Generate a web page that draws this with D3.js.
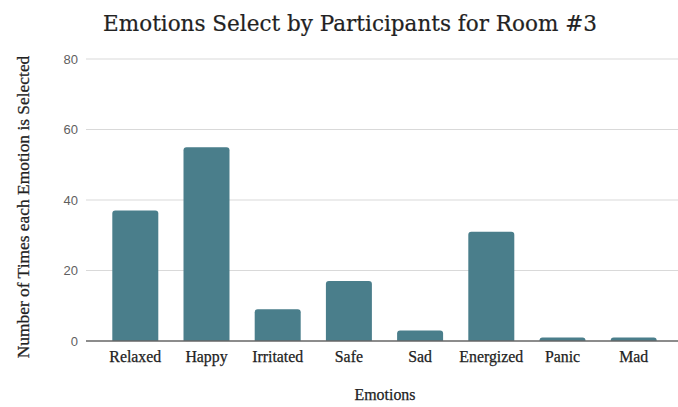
<!DOCTYPE html>
<html><head><meta charset="utf-8">
<script src="https://cdn.jsdelivr.net/npm/d3@7"></script>
<style>body{margin:0;background:#fff}</style>
</head><body>
<svg id="c" width="678" height="407"></svg>
<script>
const categories = ["Relaxed","Happy","Irritated","Safe","Sad","Energized","Panic","Mad"];
const values = [37,55,9,17,3,31,1,1];
const yTicks = [0,20,40,60,80];
const title = "Emotions Select by Participants for Room #3";
const xTitle = "Emotions";
const yTitle = "Number of Times each Emotion is Selected";

const svg = d3.select("#c");
const gridLeft = 86, gridRight = 678;
const x = d3.scaleBand().domain(categories).range([99.7, 669.3]).paddingInner(0.354).paddingOuter(0.177);
const y = d3.scaleLinear().domain([0,80]).range([341,59]);
const serif = "'Liberation Serif', 'DejaVu Serif', serif";
const titleSerif = "'DejaVu Serif', 'Liberation Serif', serif";
const sans = "'Liberation Sans', Arial, sans-serif";

function fit(sel, target) {
  const fs = +sel.attr("font-size");
  const w = sel.node().getComputedTextLength();
  if (w > 0) sel.attr("font-size", fs * target / w);
}

// gridlines
svg.append("g").selectAll("line").data(yTicks.filter(d=>d>0)).join("line")
  .attr("x1", gridLeft).attr("x2", gridRight)
  .attr("y1", d=>y(d)).attr("y2", d=>y(d))
  .attr("stroke", "#d9d9d9").attr("stroke-width", 1);

// y tick labels
svg.append("g").selectAll("text").data(yTicks).join("text")
  .attr("x", 78).attr("y", d=>y(d)).attr("dy","0.35em")
  .attr("text-anchor","end").attr("font-family", sans).attr("font-size", 13)
  .attr("fill","#5f5f5f").text(d=>d);

// bars with rounded tops
const r = 3;
svg.append("g").selectAll("path").data(values).join("path")
  .attr("fill", "#4a7e8b")
  .attr("d", (d,i)=>{
    const x0 = x(categories[i]), w = x.bandwidth();
    const yt = y(d), yb = y(0);
    const rr = Math.min(r, (yb-yt));
    return `M${x0},${yb}V${yt+rr}Q${x0},${yt} ${x0+rr},${yt}H${x0+w-rr}Q${x0+w},${yt} ${x0+w},${yt+rr}V${yb}Z`;
  });

// baseline
svg.append("line").attr("x1", gridLeft).attr("x2", gridRight)
  .attr("y1", y(0)).attr("y2", y(0)).attr("stroke","#666").attr("stroke-width",1.3);

// x labels
const xl = svg.append("g").selectAll("text").data(categories).join("text")
  .attr("x", d=>x(d)+x.bandwidth()/2).attr("y", 362)
  .attr("text-anchor","middle").attr("font-family", serif).attr("font-size", 14)
  .attr("fill","#222").attr("stroke","#222").attr("stroke-width",0.25).text(d=>d);
const en = xl.filter(d=>d==="Energized");
fit(en, 64);
xl.attr("font-size", en.attr("font-size"));

// axis titles
const xt = svg.append("text").attr("x", 385).attr("y", 400).attr("text-anchor","middle")
  .attr("font-family", serif).attr("font-size", 14).attr("fill","#222")
  .attr("stroke","#222").attr("stroke-width",0.25).text(xTitle);
fit(xt, 61);
const yt = svg.append("text").attr("transform","translate(29,207) rotate(-90)").attr("text-anchor","middle")
  .attr("font-family", serif).attr("font-size", 14).attr("fill","#222")
  .attr("stroke","#222").attr("stroke-width",0.25).text(yTitle);
fit(yt, 303);

// title
const t = svg.append("text").attr("x", 350).attr("y", 31).attr("text-anchor","middle")
  .attr("font-family", titleSerif).attr("font-size", 22).attr("fill","#222")
  .attr("stroke","#222").attr("stroke-width",0.2).text(title);
fit(t, 494);
</script>
</body></html>
